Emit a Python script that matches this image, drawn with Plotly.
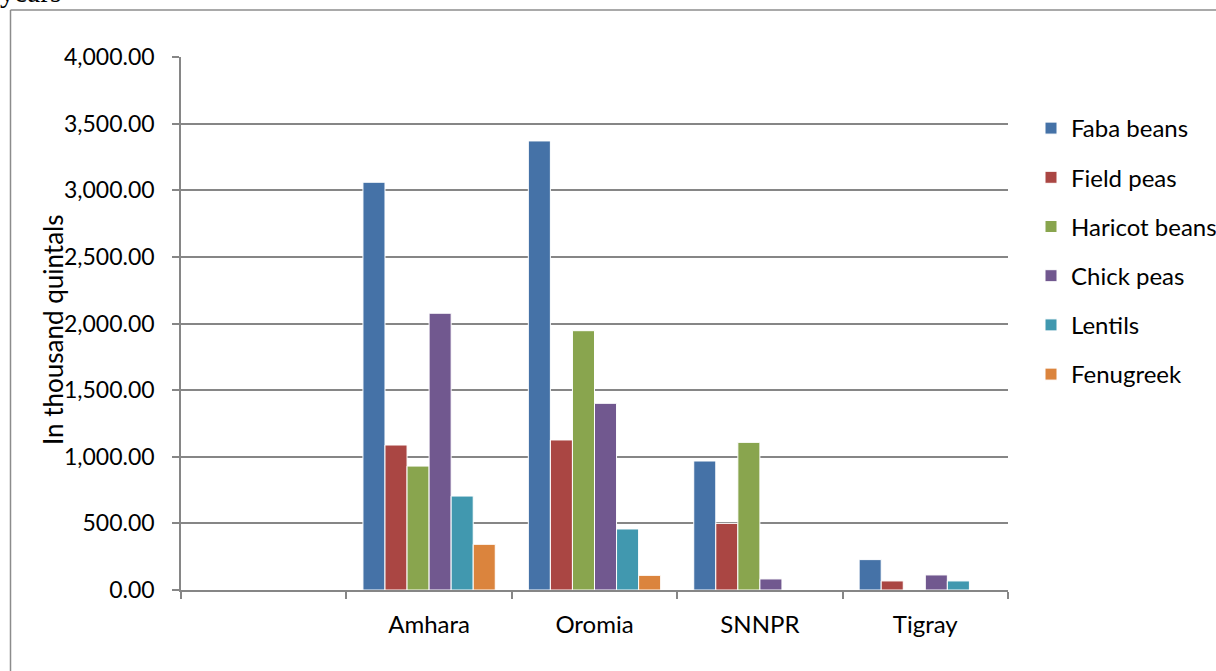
import plotly.graph_objects as go

regions = [" ", "Amhara", "Oromia", "SNNPR", "Tigray"]
crops = ["Faba beans", "Field peas", "Haricot beans", "Chick peas", "Lentils", "Fenugreek"]
faba_beans = [None, 3060, 3370, 968, 228]
field_peas = [None, 1088, 1126, 500, 68]
haricot_beans = [None, 930, 1946, 1108, 0]
chick_peas = [None, 2077, 1401, 83, 113]
lentils = [None, 705, 458, 0, 68]
fenugreek = [None, 343, 110, 0, 0]
series = [faba_beans, field_peas, haricot_beans, chick_peas, lentils, fenugreek]
colors = ["#4572A7", "#AA4643", "#89A54E", "#71588F", "#4198AF", "#DB843D"]
y_ticks = [0, 500, 1000, 1500, 2000, 2500, 3000, 3500, 4000]

W, H = 1216, 671
L, R, T, B = 181, 1008, 57, 590

fig = go.Figure()
for name, vals, col in zip(crops, series, colors):
    fig.add_trace(go.Bar(
        x=regions, y=vals, name=name, legendgroup=name,
        marker=dict(color=col, line=dict(color="white", width=1)),
    ))

def px_x(p):
    return (p - L) / (R - L)

def px_y(p):
    return (B - p) / (B - T)

font_fam = "Lato, 'Open Sans', sans-serif"
fig.update_layout(
    width=W, height=H,
    margin=dict(l=L, r=W - R, t=T, b=H - B, pad=0, autoexpand=False),
    paper_bgcolor="white", plot_bgcolor="white",
    barmode="group", bargap=0.2, bargroupgap=0.0,
    font=dict(family=font_fam, size=23, color="black"),
    showlegend=True,
    legend=dict(x=px_x(1031), xanchor="left", y=px_y(106), yanchor="top",
                font=dict(size=24, family=font_fam), tracegroupgap=15,
                itemwidth=30, bgcolor="rgba(0,0,0,0)"),
    xaxis=dict(type="category", categoryorder="array", categoryarray=regions,
               range=[-0.5, 4.5], showgrid=False, showline=True,
               linecolor="#868686", linewidth=1.5,
               ticks="outside", tickson="boundaries", ticklen=7,
               tickcolor="#868686", tickwidth=1.5, ticklabelstandoff=12,
               tickfont=dict(size=24, family=font_fam)),
    yaxis=dict(range=[0, 4000], tickvals=y_ticks,
               ticktext=[f"{v:,.2f}" for v in y_ticks],
               showgrid=True, gridcolor="#868686", gridwidth=1.5,
               showline=True, linecolor="#868686", linewidth=1.5,
               ticks="outside", ticklen=7, tickcolor="#868686", tickwidth=1.5,
               ticklabelstandoff=13,
               zeroline=False, tickfont=dict(size=23, family=font_fam)),
)

fig.add_shape(type="line", xref="paper", yref="paper",
              x0=px_x(10.5), x1=px_x(1230), y0=px_y(10), y1=px_y(10),
              line=dict(color="#8c8c8c", width=1.5))
fig.add_shape(type="line", xref="paper", yref="paper",
              x0=px_x(10.5), x1=px_x(10.5), y0=px_y(10), y1=px_y(690),
              line=dict(color="#8c8c8c", width=1.5))

fig.add_annotation(text="In thousand quintals", xref="paper", yref="paper",
                   x=px_x(53), y=px_y(330), textangle=-90, showarrow=False,
                   xanchor="center", yanchor="middle",
                   font=dict(size=26, family=font_fam, color="black"))
fig.add_annotation(text="years", xref="paper", yref="paper",
                   x=px_x(-2), y=px_y(10), showarrow=False,
                   xanchor="left", yanchor="bottom", borderpad=1,
                   font=dict(size=29, family="'Liberation Serif', serif", color="black"))

fig.write_html("out.html", config={"displayModeBar": False},
               post_script="document.body.style.margin='0px';")
